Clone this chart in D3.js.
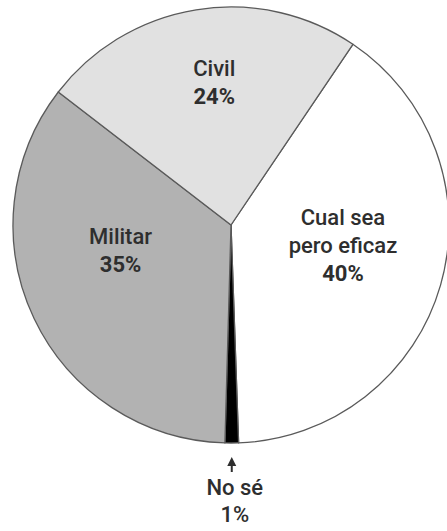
<!DOCTYPE html>
<html>
<head>
<meta charset="utf-8">
<script src="https://cdn.jsdelivr.net/npm/d3@7"></script>
<style>
  html, body { margin: 0; padding: 0; background: #fff; }
  svg { display: block; }
  text { font-family: Roboto, "Noto Sans", sans-serif; fill: #2e2e2e; }
</style>
</head>
<body>
<svg id="chart" width="447" height="531"></svg>
<script>
// ---------- data (clockwise from the Civil / Cual sea border) ----------
const categories = ["Cual sea pero eficaz", "No sé", "Militar", "Civil"];
const labelLines = [["Cual sea", "pero eficaz"], ["No sé"], ["Militar"], ["Civil"]];
const values = [40, 1, 35, 24];
const valueLabels = ["40%", "1%", "35%", "24%"];

// ---------- layout ----------
const cx = 231, cy = 225, R = 218;
const startDeg = 34;
const fills = d3.scaleOrdinal()
  .domain(categories)
  .range(["#ffffff", "#000000", "#b2b2b2", "#e1e1e1"]);
// nudges away from the label-arc centroid, per category
const nudge = {
  "Cual sea pero eficaz": [-13, -15],
  "Militar": [7, -30],
  "Civil": [4, -14],
};

const svg = d3.select("#chart");
const g = svg.append("g").attr("transform", `translate(${cx},${cy})`);

const pie = d3.pie()
  .sort(null)
  .value((d) => d.value)
  .startAngle((startDeg * Math.PI) / 180)
  .endAngle((startDeg * Math.PI) / 180 + 2 * Math.PI);

const rows = categories.map((c, i) => ({ cat: c, value: values[i], lines: labelLines[i], pct: valueLabels[i] }));
const arcs = pie(rows);

const arc = d3.arc().innerRadius(0).outerRadius(R);
const labelArc = d3.arc().innerRadius(130).outerRadius(130);

g.selectAll("path.slice")
  .data(arcs)
  .join("path")
  .attr("class", "slice")
  .attr("d", arc)
  .attr("fill", (d) => fills(d.data.cat))
  .attr("stroke", "#5a5a5a")
  .attr("stroke-width", 1.3)
  .attr("stroke-linejoin", "round");

// inside labels
const lineH = 28;
arcs.filter((d) => d.data.cat !== "No sé").forEach((d) => {
  const [x0, y0] = labelArc.centroid(d);
  const [nx, ny] = nudge[d.data.cat];
  const x = x0 + nx, y = y0 + ny;
  const lines = d.data.lines.map((t) => ({ t, bold: false })).concat([{ t: d.data.pct, bold: true }]);
  const top = y - ((lines.length - 1) * lineH) / 2 + 7;
  const t = g.append("text").attr("text-anchor", "middle").attr("font-size", 22);
  lines.forEach((l, i) => {
    t.append("tspan")
      .attr("x", x)
      .attr("y", top + i * lineH)
      .attr("font-weight", l.bold ? 700 : 500)
      .text(l.t);
  });
});

// "No sé" callout below the pie
const small = arcs.find((d) => d.data.cat === "No sé");
const mid = (small.startAngle + small.endAngle) / 2;
const ax = Math.sin(mid) * R;
const arrowTip = R + 14, arrowEnd = R + 29;
g.append("line")
  .attr("x1", ax).attr("x2", ax)
  .attr("y1", arrowTip + 6).attr("y2", arrowEnd)
  .attr("stroke", "#2e2e2e").attr("stroke-width", 2);
g.append("path")
  .attr("d", `M${ax},${arrowTip} L${ax - 4.5},${arrowTip + 9} L${ax + 4.5},${arrowTip + 9} Z`)
  .attr("fill", "#2e2e2e");
const nt = g.append("text").attr("text-anchor", "middle").attr("font-size", 22).attr("font-weight", 500);
nt.append("tspan").attr("x", ax + 3).attr("y", R + 52).text(small.data.lines[0]);
nt.append("tspan").attr("x", ax + 3).attr("y", R + 79).text(small.data.pct);
</script>
</body>
</html>
